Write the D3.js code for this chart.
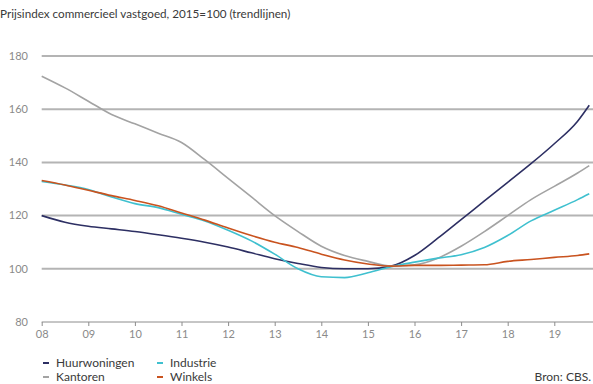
<!DOCTYPE html>
<html>
<head>
<meta charset="utf-8">
<script src="https://cdn.jsdelivr.net/npm/d3@7"></script>
<style>
  html, body { margin: 0; padding: 0; background: #fff; }
  svg { display: block; font-family: Lato, "Open Sans", sans-serif; }
</style>
</head>
<body>
<svg id="chart" width="593" height="384"></svg>
<script>
// Half-yearly points, trend lines (2015 = 100)
const periods = [2008, 2008.5, 2009, 2009.5, 2010, 2010.5, 2011, 2011.5, 2012, 2012.5,
  2013, 2013.5, 2014, 2014.5, 2015, 2015.5, 2016, 2016.5, 2017, 2017.5,
  2018, 2018.5, 2019, 2019.5, 2019.75];

const huurwoningen = [120, 117.5, 116, 115, 114, 112.8, 111.5, 110, 108.2, 106,
  103.8, 102, 100.5, 100, 100, 101, 105, 111.5, 118.5, 125.5,
  132.5, 139.5, 147, 155.5, 161.5];

const kantoren = [172.4, 168, 163, 158, 154.5, 151, 147.5, 141, 134, 127,
  120, 114, 108.5, 105, 102.8, 101, 101.5, 104, 108.5, 114,
  120, 126, 131, 136, 138.8];

const industrie = [132.8, 131.5, 129.8, 127, 124.5, 123, 120.5, 118, 114.5, 110.5,
  105.5, 100, 97, 96.7, 98.5, 100.8, 102.5, 104, 105.3, 108,
  112.5, 118, 122, 126, 128.2];

const winkels = [133.2, 131.5, 129.5, 127.5, 125.7, 123.7, 121, 118.3, 115.3, 112.5,
  110, 108, 105.5, 103.3, 101.8, 101, 101.3, 101.3, 101.4, 101.5,
  102.8, 103.5, 104.3, 105, 105.6];

const yearTicks = [2008, 2009, 2010, 2011, 2012, 2013, 2014, 2015, 2016, 2017, 2018, 2019];
const yearLabels = ["08", "09", "10", "11", "12", "13", "14", "15", "16", "17", "18", "19"];
const valueTicks = [80, 100, 120, 140, 160, 180];

const seriesNames = ["Huurwoningen", "Kantoren", "Industrie", "Winkels"];
const seriesColors = ["#2d2f63", "#a3a3a3", "#3fc0cf", "#c9531f"];
const seriesValues = [huurwoningen, kantoren, industrie, winkels];

const title = "Prijsindex commercieel vastgoed, 2015=100 (trendlijnen)";
const source = "Bron: CBS.";

const svg = d3.select("#chart");
const W = 593;

const x = d3.scaleLinear().domain([2008, 2020]).range([41.7, 41.7 + 12 * 46.6]);
const y = d3.scaleLinear().domain([80, 180]).range([322, 56]);

// Title
svg.append("text")
  .attr("x", 0).attr("y", 18)
  .attr("font-size", 11.7).attr("fill", "#3a3a3a")
  .text(title);

// Horizontal gridlines (above the baseline)
svg.append("g")
  .selectAll("line")
  .data(valueTicks.filter(v => v > 80))
  .join("line")
  .attr("x1", x(2008)).attr("x2", W)
  .attr("y1", d => y(d)).attr("y2", d => y(d))
  .attr("stroke", "#b4b4b4").attr("stroke-width", 2);

// Y labels
svg.append("g")
  .selectAll("text")
  .data(valueTicks)
  .join("text")
  .attr("x", 28).attr("y", d => y(d))
  .attr("dy", "0.35em")
  .attr("text-anchor", "end")
  .attr("font-size", 11).attr("fill", "#8a8a8a")
  .text(d => d);

// X axis
const xAxis = d3.axisBottom(x)
  .tickValues(yearTicks)
  .tickFormat((d, i) => yearLabels[i])
  .tickSize(4)
  .tickPadding(4);

const gx = svg.append("g")
  .attr("transform", `translate(0,${y(80)})`)
  .call(xAxis);
gx.select(".domain").attr("d", `M${x(2008)},0H${W}`).attr("stroke", "#8c8c8c");
gx.selectAll(".tick line").attr("stroke", "#8c8c8c");
gx.selectAll(".tick text")
  .attr("font-size", 11).attr("fill", "#8a8a8a")
  .attr("font-family", "Lato, 'Open Sans', sans-serif");

// Lines
const line = d3.line()
  .x((d, i) => x(periods[i]))
  .y(d => y(d))
  .curve(d3.curveMonotoneX);

svg.append("g")
  .selectAll("path")
  .data(seriesValues)
  .join("path")
  .attr("d", d => line(d))
  .attr("fill", "none")
  .attr("stroke", (d, i) => seriesColors[i])
  .attr("stroke-width", 1.6);

// Legend
const legendPos = [[43, 363], [43, 377], [157, 363], [157, 377]];
const lg = svg.append("g")
  .selectAll("g")
  .data(seriesNames)
  .join("g")
  .attr("transform", (d, i) => `translate(${legendPos[i][0]},${legendPos[i][1]})`);
lg.append("line")
  .attr("x1", 0).attr("x2", 6).attr("y1", 0).attr("y2", 0)
  .attr("stroke", (d, i) => seriesColors[i]).attr("stroke-width", 2);
lg.append("text")
  .attr("x", 13).attr("y", 0).attr("dy", "0.35em")
  .attr("font-size", 12).attr("fill", "#3a3a3a")
  .text(d => d);

// Source
svg.append("text")
  .attr("x", 591).attr("y", 377).attr("dy", "0.35em")
  .attr("text-anchor", "end")
  .attr("font-size", 12).attr("fill", "#3a3a3a")
  .text(source);
</script>
</body>
</html>
